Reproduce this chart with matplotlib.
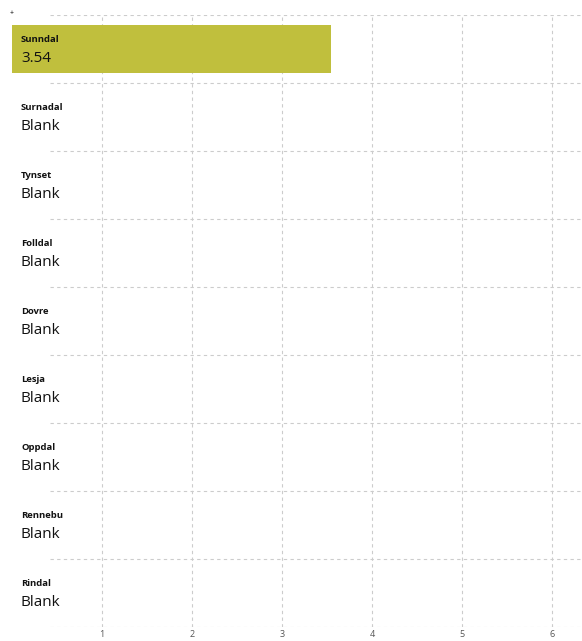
import matplotlib.pyplot as plt

# data
kommuner = ['Sunndal', 'Surnadal', 'Tynset', 'Folldal', 'Dovre',
            'Lesja', 'Oppdal', 'Rennebu', 'Rindal']
verdier = [3.54, None, None, None, None, None, None, None, None]
xticks = [1, 2, 3, 4, 5, 6]

plt.rcParams['font.family'] = ['Open Sans', 'DejaVu Sans']

fig = plt.figure(figsize=(5.82, 6.41), dpi=100)
ax = fig.add_axes([12/582, 14/641, 570/582, 612/641])

rows = list(range(len(kommuner)))
vals = [v if v is not None else 0 for v in verdier]
ax.barh(rows, vals, height=0.72, color='#c0bf3d', zorder=2)

ax.set_xlim(0, 570/90)
ax.set_ylim(len(kommuner) - 0.5, -0.5)

for i, (navn, v) in enumerate(zip(kommuner, verdier)):
    ax.text(0.1, i - 0.14, navn, fontsize=6.8, fontweight='bold',
            va='center', ha='left', color='#111111', zorder=3)
    txt = f'{v:.2f}' if v is not None else 'Blank'
    ax.text(0.1, i + 0.14, txt, fontsize=11, va='center', ha='left',
            color='#111111', zorder=3)

# horizontal separators
for y in [r - 0.5 for r in rows] + [len(kommuner) - 0.5]:
    ax.axhline(y, xmin=38/570, xmax=1, color='#cccccc', lw=0.8,
               ls=(0, (3, 3)), zorder=1)

ax.set_xticks(xticks)
ax.set_yticks([])
ax.grid(axis='x', color='#cccccc', lw=0.8, ls=(0, (3, 3)), zorder=1)
ax.tick_params(axis='x', length=0, pad=2.5, labelsize=6.5, labelcolor='#555555')
for s in ax.spines.values():
    s.set_visible(False)

fig.text(12/582, 1 - 14/641, '+', fontsize=5, ha='center', va='center')

fig.savefig('out.png', dpi=100)
